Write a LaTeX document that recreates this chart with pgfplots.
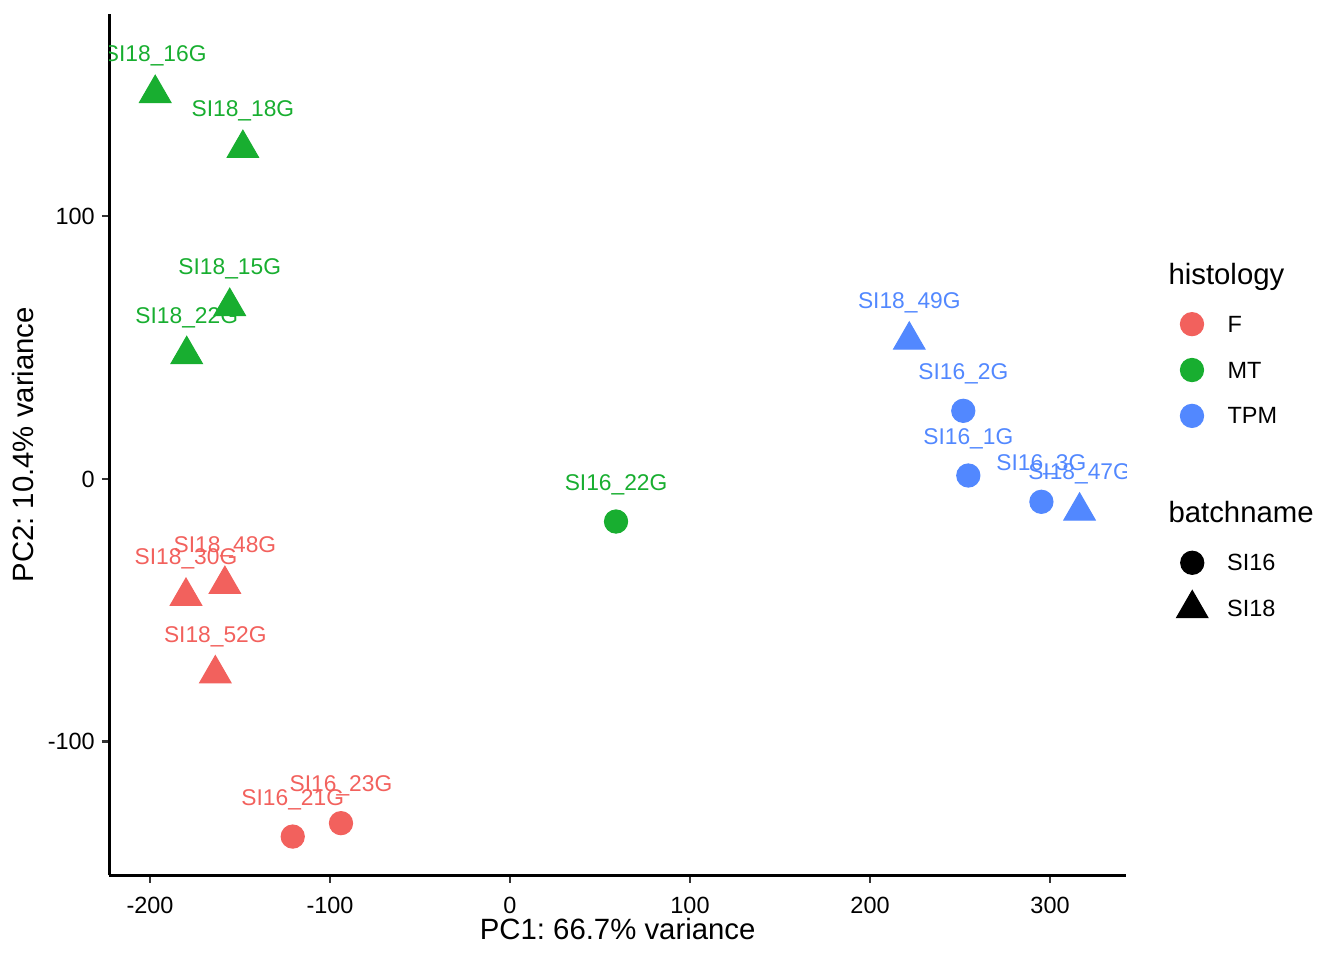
\documentclass[border=0pt]{standalone}
\usepackage{pgfplots}
\pgfplotsset{compat=1.18}
\usepackage{pgfplotstable}
\usepackage{fontspec}
\setmainfont{Liberation Sans}
\frenchspacing
\definecolor{cF}{HTML}{F2615D}
\definecolor{cMT}{HTML}{18AE30}
\definecolor{cTPM}{HTML}{5288FF}
\definecolor{grey20}{HTML}{333333}

% histology F, batch SI16
\pgfplotstableread{
x y label
-120.7 -136.0 SI16\_21G
-93.9 -130.9 SI16\_23G
}\FcirTab
% histology F, batch SI18
\pgfplotstableread{
x y label
-180.0 -44.6 SI18\_30G
-158.4 -40.1 SI18\_48G
-163.7 -74.1 SI18\_52G
}\FtriTab
% histology MT, batch SI16
\pgfplotstableread{
x y label
58.9 -16.2 SI16\_22G
}\MTcirTab
% histology MT, batch SI18
\pgfplotstableread{
x y label
-197.1 146.6 SI18\_16G
-148.4 125.7 SI18\_18G
-155.7 65.6 SI18\_15G
-179.6 47.3 SI18\_22G
}\MTtriTab
% histology TPM, batch SI16
\pgfplotstableread{
x y label
251.8 25.9 SI16\_2G
254.6 1.3 SI16\_1G
295.2 -8.7 SI16\_3G
}\TPMcirTab
% histology TPM, batch SI18
\pgfplotstableread{
x y label
221.8 52.8 SI18\_49G
316.4 -12.2 SI18\_47G
}\TPMtriTab

\pgfplotsset{
  lab/.style={only marks, color=#1, forget plot,
    nodes near coords, point meta=explicit symbolic,
    nodes near coords style={anchor=base, yshift=11.8bp, inner sep=0pt,
      font=\fontsize{8.54bp}{10bp}\selectfont, text=#1}},
  cir/.style={mark=*, mark size=4.35bp},
  tri/.style={mark=triangle*, mark size=6.8bp},
  legbase/.style={
    legend cell align=left,
    legend image code/.code={\draw[##1] plot coordinates {(0pt,0pt)};},
    legend style={draw=none, fill=none, inner sep=0pt, outer sep=0pt,
      row sep=0pt, font=\fontsize{8.8bp}{10bp}\selectfont,
      nodes={inner sep=0pt, text depth=0pt, minimum height=17.2bp, anchor=west},
      anchor=north west},
  },
}

\begin{document}
\begin{tikzpicture}
\path[use as bounding box] (0,0) rectangle (504bp,360bp);
\begin{axis}[
  at={(40.99bp,31.69bp)}, anchor=south west,
  scale only axis, width=381.26bp, height=323.06bp,
  xmin=-222.6, xmax=342.2, ymin=-150.8, ymax=176.8,
  axis x line=bottom, axis y line=left,
  axis line style={line width=1.07bp, black, -},
  tick align=outside, major tick length=2.75bp,
  tick style={line width=1.07bp, color=grey20},
  xtick={-200,-100,0,100,200,300}, xticklabels={-200,-100,0,100,200,300},
  ytick={-100,0,100}, yticklabels={-100,0,100},
  minor tick num=0,
  xticklabel style={anchor=base, inner sep=0pt, yshift=-11.44bp,
    font=\fontsize{8.8bp}{10bp}\selectfont, text=black},
  yticklabel style={anchor=east, inner sep=0pt, xshift=-2.5bp,
    font=\fontsize{8.8bp}{10bp}\selectfont, text=black},
  xlabel={PC1: 66.7\% variance}, ylabel={PC2: 10.4\% variance},
  x label style={at={(axis description cs:0.5,-0.0741)}, anchor=base,
    font=\fontsize{11bp}{13bp}\selectfont, inner sep=0pt},
  y label style={at={(axis description cs:-0.0741,0.5)}, anchor=base,
    font=\fontsize{11bp}{13bp}\selectfont, inner sep=0pt},
  clip marker paths=true,
  legbase,
  legend style={at={(1.0535,0.6666)}, column sep=9.0bp},
]
\addlegendimage{cir, color=cF}
\addlegendentry{F}
\addlegendimage{cir, color=cMT}
\addlegendentry{MT}
\addlegendimage{cir, color=cTPM}
\addlegendentry{TPM}

\addplot[lab=cF, cir] table[x=x, y=y, meta=label] {\FcirTab};
\addplot[lab=cF, tri] table[x=x, y=y, meta=label] {\FtriTab};
\addplot[lab=cMT, cir] table[x=x, y=y, meta=label] {\MTcirTab};
\addplot[lab=cMT, tri] table[x=x, y=y, meta=label] {\MTtriTab};
\addplot[lab=cTPM, cir] table[x=x, y=y, meta=label] {\TPMcirTab};
\addplot[lab=cTPM, tri] table[x=x, y=y, meta=label] {\TPMtriTab};
\end{axis}

\begin{axis}[
  at={(40.99bp,31.69bp)}, anchor=south west,
  scale only axis, width=381.26bp, height=323.06bp,
  xmin=0, xmax=1, ymin=0, ymax=1, hide axis,
  legbase,
  legend style={at={(1.0497,0.3896)}, column sep=7.2bp},
]
\addlegendimage{cir, color=black}
\addlegendentry{SI16}
\addlegendimage{tri, color=black}
\addlegendentry{SI18}
\end{axis}

\node[anchor=base west, inner sep=0pt, font=\fontsize{11bp}{13bp}\selectfont] at (438.0bp,253.4bp) {histology};
\node[anchor=base west, inner sep=0pt, font=\fontsize{11bp}{13bp}\selectfont] at (438.0bp,164.1bp) {batchname};
\end{tikzpicture}
\end{document}
